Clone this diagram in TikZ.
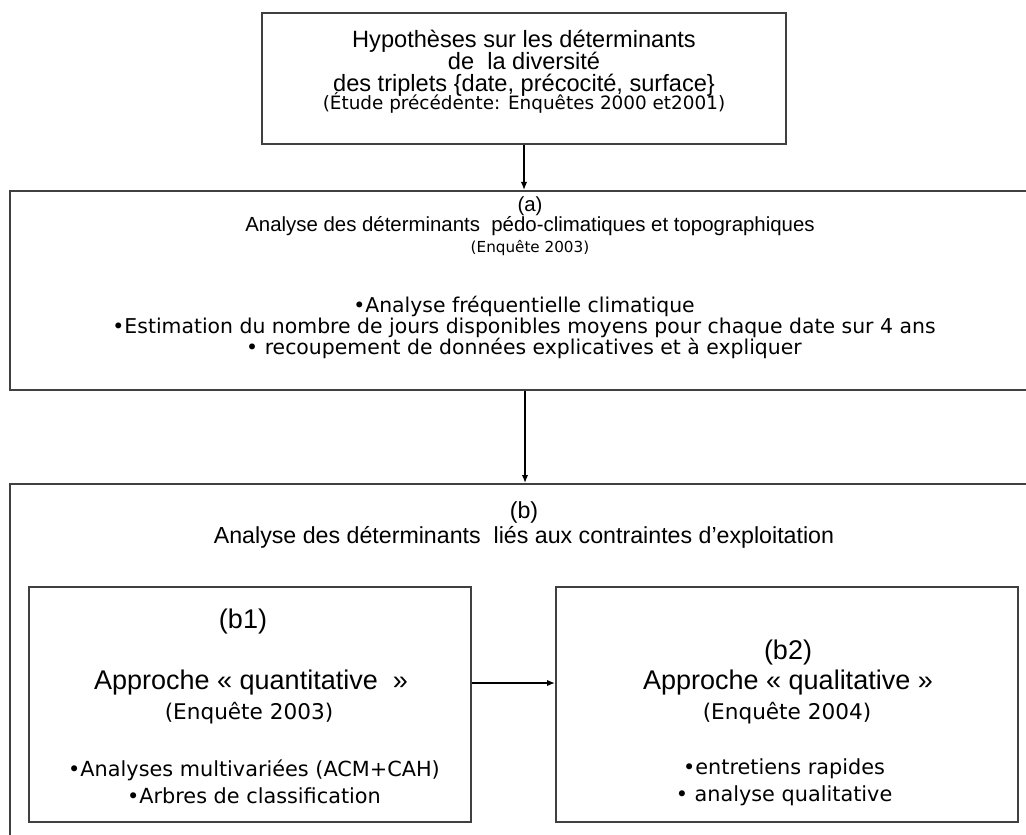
\documentclass[tikz,border=0pt]{standalone}
\usepackage{fontspec}
\setmainfont{Liberation Sans}
\newfontfamily\comicf{DejaVu Sans}
\usetikzlibrary{arrows.meta,positioning}
\newcommand{\fs}[2]{\fontsize{#1}{#2}\selectfont}
\newcommand{\headf}{\fs{11.8}{13}}
\newcommand{\notef}{\comicf\fs{9.2}{11}}

\begin{document}
\begin{tikzpicture}[x=0.5pt,y=-0.5pt,>={Latex[length=4pt,width=3.2pt]},
  box/.style={draw=black!75,line width=1pt,inner sep=0pt},
  txt/.style={inner sep=0pt,align=center},
  link/.style={->,line width=0.7pt}]
  \useasboundingbox (0,0) rectangle (1026,834);
  \clip (0,0) rectangle (1026,834);
  % boxes
  \node[box,minimum width=262pt,minimum height=65.5pt] (hyp) at (524,78.5) {};
  \node[box,minimum width=515pt,minimum height=99.5pt] (anaA) at (525,290.5) {};
  \node[box,minimum width=515pt,minimum height=198pt] (anaB) at (525,682) {};
  \node[box,minimum width=221pt,minimum height=117.5pt] (quant) at (250,704.5) {};
  \node[box,minimum width=231pt,minimum height=117.5pt] (qual) at (787,704.5) {};
  % texts
  \foreach \y/\f/\t [count=\i] in {48/\headf/{Hypothèses sur les déterminants},
      70/\headf/{de\ \ la diversité},
      92/\headf/{des triplets \{date, précocité, surface\}},
      110/\notef/{(Étude précédente: Enquêtes 2000 et2001)}}
    \node[txt,anchor=base,font=\f] (hypL\i) at (524,\y) {\t};
  \node[txt,font=\fs{10.2}{10.25}] (anaAT) at (530,226)
    {(a)\\ Analyse des déterminants\ \ pédo-climatiques et topographiques\\
     \comicf\fs{7.6}{10.25}(Enquête 2003)};
  \node[txt,font=\comicf\fs{10.2}{10.5}] (anaAL) at (524,327)
    {•Analyse fréquentielle climatique\\
     •Estimation du nombre de jours disponibles moyens pour chaque date sur 4 ans\\
     • recoupement de données explicatives et à expliquer};
  \node[txt,font=\fs{11.6}{12.5}] (anaBT) at (524,525)
    {(b)\\ Analyse des déterminants\ \ liés aux contraintes d’exploitation};
  \node[txt,font=\fs{13.5}{15}] (quantN) at (243,622) {(b1)};
  \node[txt,font=\fs{13.5}{15}] (quantA) at (251,683) {Approche « quantitative\ \ »};
  \node[txt,font=\comicf\fs{10.8}{15}] (quantE) at (249,713) {(Enquête 2003)};
  \node[txt,font=\comicf\fs{10.4}{13.5}] (quantL) at (254,782)
    {•Analyses multivariées (ACM+CAH)\\ •Arbres de classification};
  \node[txt,font=\fs{13.5}{15}] (qualN) at (788,653) {(b2)};
  \node[txt,font=\fs{13.5}{15}] (qualA) at (788,683) {Approche « qualitative »};
  \node[txt,font=\comicf\fs{10.8}{15}] (qualE) at (787,713) {(Enquête 2004)};
  \node[txt,font=\comicf\fs{10.4}{13.5}] (qualL) at (784,782)
    {•entretiens rapides\\ • analyse qualitative};
  % arrows
  \draw[link] (hyp.south) -- (hyp.south |- anaA.north);
  \draw[link] (anaA.south) -- (anaB.north);
  \draw[link] (quant.east |- quantA) -- (qual.west |- quantA);
\end{tikzpicture}
\end{document}
